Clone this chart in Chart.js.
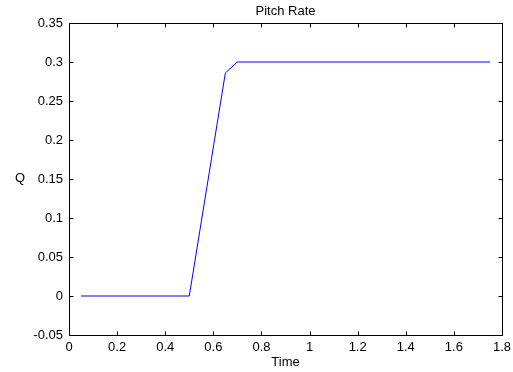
<!DOCTYPE html>
<html>
<head>
<meta charset="utf-8">
<script src="https://cdn.jsdelivr.net/npm/chart.js@4"></script>
<style>
html,body{margin:0;padding:0;background:#fff;}
#wrap{width:513px;height:372px;}
</style>
</head>
<body>
<div id="wrap"><canvas id="c" width="513" height="372"></canvas></div>
<script>
const titleText = "Pitch Rate";
const xLabel = "Time";
const yLabel = "Q";
const timeValues = [0.05, 0.5, 0.65, 0.7, 1.75];
const qValues = [0, 0, 0.286, 0.3, 0.3];
const xTicks = [0, 0.2, 0.4, 0.6, 0.8, 1, 1.2, 1.4, 1.6, 1.8];
const yTicks = [-0.05, 0, 0.05, 0.1, 0.15, 0.2, 0.25, 0.3, 0.35];

const FONT = "'Liberation Sans', Arial, sans-serif";
const fmt = v => String(Number(Number(v).toFixed(2)));

const points = timeValues.map((t, i) => ({x: t, y: qValues[i]}));

const boxPlugin = {
  id: 'box',
  afterDraw(chart) {
    const ctx = chart.ctx;
    const a = chart.chartArea;
    const xs = chart.scales.x, ys = chart.scales.y;
    ctx.save();
    ctx.strokeStyle = '#000';
    ctx.lineWidth = 1;
    const L = Math.round(a.left) + 0.5, R = Math.round(a.right) + 0.5;
    const T = Math.round(a.top) + 0.5, B = Math.round(a.bottom) + 0.5;
    ctx.beginPath();
    ctx.rect(L, T, R - L, B - T);
    ctx.stroke();
    const tl = 4;
    ctx.beginPath();
    xTicks.forEach(v => {
      const px = Math.round(xs.getPixelForValue(v)) + 0.5;
      ctx.moveTo(px, B); ctx.lineTo(px, B - tl);
      ctx.moveTo(px, T); ctx.lineTo(px, T + tl);
    });
    yTicks.forEach(v => {
      const py = Math.round(ys.getPixelForValue(v)) + 0.5;
      ctx.moveTo(L, py); ctx.lineTo(L + tl, py);
      ctx.moveTo(R, py); ctx.lineTo(R - tl, py);
    });
    ctx.stroke();
    ctx.fillStyle = '#000';
    ctx.font = '13px ' + FONT;
    ctx.textAlign = 'center';
    ctx.textBaseline = 'alphabetic';
    ctx.fillText(titleText, (a.left + a.right) / 2, 15);
    ctx.fillText(xLabel, (a.left + a.right) / 2, 366);
    ctx.fillText(yLabel, 20, 182);
    ctx.restore();
  }
};

new Chart(document.getElementById('c'), {
  type: 'scatter',
  data: {
    datasets: [{
      data: points,
      showLine: true,
      borderColor: '#0000ff',
      borderWidth: 1,
      pointRadius: 0,
      tension: 0,
      fill: false
    }]
  },
  options: {
    responsive: false,
    animation: false,
    devicePixelRatio: 1,
    layout: {padding: {top: 23, right: 11, left: 0, bottom: 0}},
    plugins: {legend: {display: false}, title: {display: false}, tooltip: {enabled: false}},
    scales: {
      x: {
        type: 'linear', min: 0, max: 1.8,
        afterBuildTicks: s => { s.ticks = xTicks.map(v => ({value: v})); },
        afterFit: s => { s.height = 37; s.paddingRight = 0; s.paddingLeft = 0; },
        grid: {display: false, drawTicks: false},
        border: {display: false},
        ticks: {color: '#000', font: {size: 13, family: FONT}, padding: 5, callback: v => fmt(v), maxRotation: 0, autoSkip: false}
      },
      y: {
        type: 'linear', min: -0.05, max: 0.35,
        afterBuildTicks: s => { s.ticks = yTicks.map(v => ({value: v})); },
        afterFit: s => { s.width = 69; s.paddingTop = 0; s.paddingBottom = 0; },
        grid: {display: false, drawTicks: false},
        border: {display: false},
        ticks: {color: '#000', font: {size: 13, family: FONT}, padding: 6, callback: v => fmt(v), autoSkip: false}
      }
    }
  },
  plugins: [boxPlugin]
});
</script>
</body>
</html>
